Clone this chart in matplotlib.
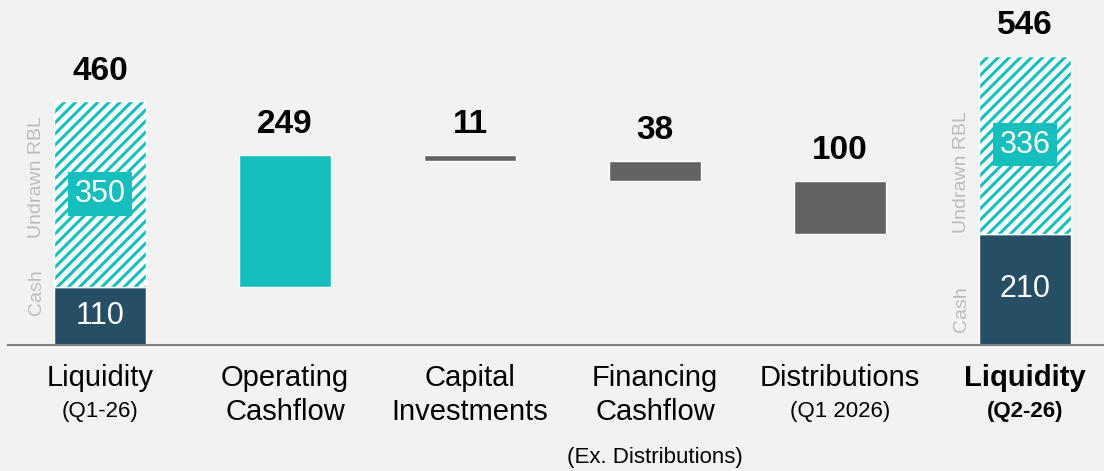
import matplotlib
matplotlib.use("Agg")
import matplotlib.pyplot as plt
from matplotlib.transforms import blended_transform_factory

plt.rcParams["font.family"] = ["Liberation Sans", "DejaVu Sans"]
plt.rcParams["hatch.linewidth"] = 2.2

# ---- data ----
categories = ["Liquidity", "Operating\nCashflow", "Capital\nInvestments",
              "Financing\nCashflow", "Distributions", "Liquidity"]
sublabels = ["(Q1-26)", "", "", "", "(Q1 2026)", "(Q2-26)"]
sublabels_low = ["", "", "", "(Ex. Distributions)", "", ""]
start_cash = 110
start_undrawn = 350
changes = [249, -11, -38, -100]
end_cash = 210
end_undrawn = 336

BG = "#f2f2f2"
TEAL = "#17bebe"
DARK = "#264f66"
GREY = "#636363"

fig = plt.figure(figsize=(11.04, 4.71), dpi=100, facecolor=BG)
H = 471.0
ax = fig.add_axes([0, 126 / H, 1, 1 - 126 / H])
ax.set_facecolor(BG)
ax.set_xlim(-100 / 185, (1104 - 100) / 185)
ax.set_ylim(0, 345 / 0.53)
ax.axis("off")
W = 0.5
TOP_OFF = 30

def stacked(x, cash, undrawn):
    ax.bar(x, cash, W, bottom=0, color=DARK, edgecolor="white", linewidth=1, zorder=2)
    ax.bar(x, undrawn, W, bottom=cash, color="white", edgecolor=TEAL,
           hatch="///", linewidth=0, zorder=2)
    ax.bar(x, undrawn, W, bottom=cash, fill=False, edgecolor="white",
           linewidth=1, zorder=3)
    ax.text(x, cash / 2, f"{cash}", ha="center", va="center", color="white",
            fontsize=22, zorder=4)
    ax.text(x, cash + undrawn / 2, f"{undrawn}", ha="center", va="center",
            color="white", fontsize=22, zorder=4,
            bbox=dict(boxstyle="square,pad=0.22", facecolor=TEAL, edgecolor="none"))
    ax.annotate(f"{cash + undrawn}", (x, cash + undrawn), xytext=(0, TOP_OFF),
                textcoords="offset pixels", ha="center", va="center",
                fontsize=24, fontweight="bold", color="black")

stacked(0, start_cash, start_undrawn)

level = start_cash
for i, ch in enumerate(changes, start=1):
    bottom = level if ch > 0 else level + ch
    color = TEAL if ch > 0 else GREY
    ax.bar(i, abs(ch), W, bottom=bottom, color=color, edgecolor="white",
           linewidth=1, zorder=2)
    ax.annotate(f"{abs(ch)}", (i, bottom + abs(ch)), xytext=(0, TOP_OFF),
                textcoords="offset pixels", ha="center", va="center",
                fontsize=24, fontweight="bold", color="black")
    level += ch

stacked(5, end_cash, end_undrawn)

# side labels
side_col = "#bcbcbc"
for x, yc, yu in [(0, 100, 317), (5, 68, 326)]:
    ax.text(x - W / 2 - 17 / 185, yc, "Cash", rotation=90, ha="center", va="center",
            color=side_col, fontsize=14)
    ax.text(x - W / 2 - 17 / 185, yu, "Undrawn RBL", rotation=90, ha="center",
            va="center", color=side_col, fontsize=14)

# baseline
ax.plot([-92 / 185, (1104 - 100) / 185], [0, 0], color="#7f7f7f", lw=1.5,
        zorder=5, clip_on=False)

# category labels
tr = blended_transform_factory(ax.transData, fig.transFigure)
for i, (c, s, s2) in enumerate(zip(categories, sublabels, sublabels_low)):
    bold = i == 5
    lines = c.split("\n")
    for j, line in enumerate(lines):
        ax.text(i, 1 - (378 + 34 * j) / H, line, transform=tr, ha="center",
                va="center", fontsize=21, fontweight="bold" if bold else "normal",
                color="black")
    if s:
        ax.text(i, 1 - 412 / H, s, transform=tr, ha="center", va="center",
                fontsize=16, fontweight="bold" if bold else "normal", color="black")
    if s2:
        ax.text(i, 1 - 458 / H, s2, transform=tr, ha="center", va="center",
                fontsize=16, color="black")

fig.savefig("out.png", dpi=100, facecolor=BG)
